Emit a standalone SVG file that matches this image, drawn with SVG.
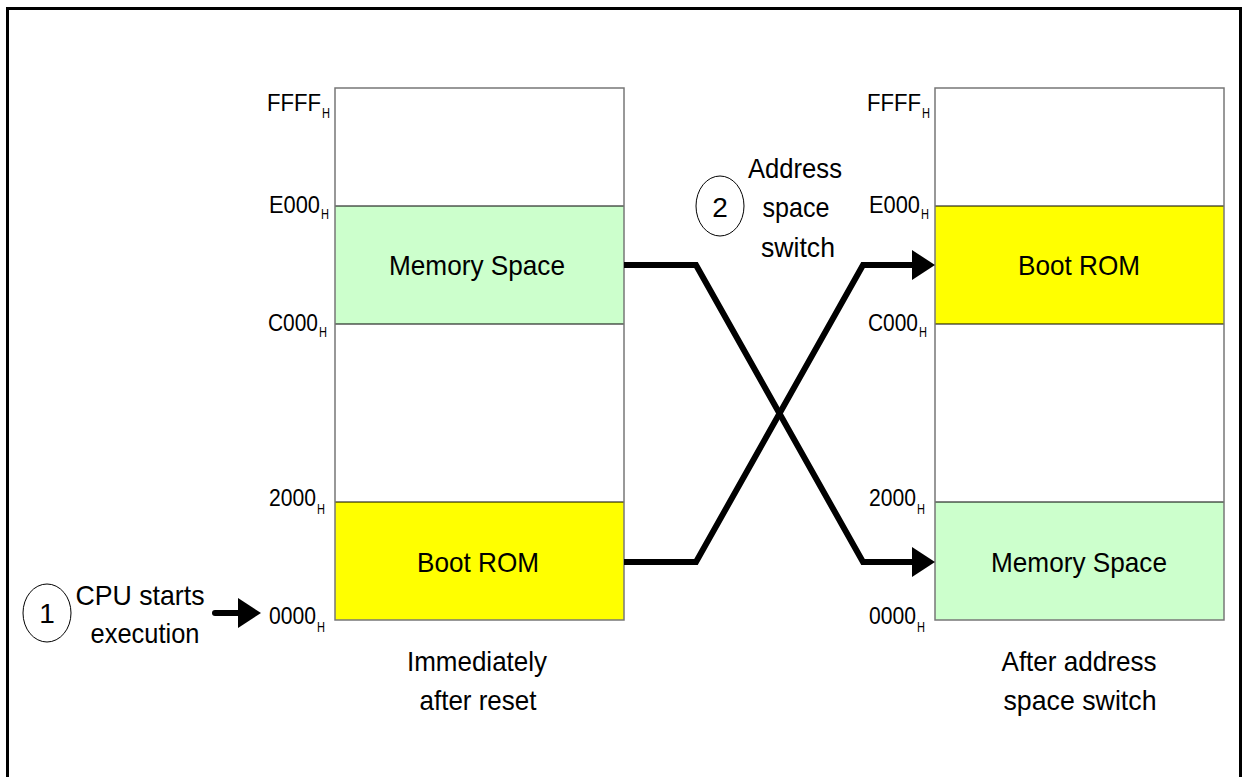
<svg xmlns="http://www.w3.org/2000/svg" width="1243" height="777" viewBox="0 0 1243 777">
<style>
  text { font-family: "Liberation Sans", Arial, sans-serif; fill: #000; }
  .big { font-size: 28px; text-anchor: middle; }
  .lbl { font-size: 24px; text-anchor: end; }
  .sub { font-size: 15px; }
  .div { stroke: #000; stroke-width: 1; }
  .box { fill: none; stroke: #777; stroke-width: 1.5; }
  .conn { fill: none; stroke: #000; stroke-width: 6; stroke-linejoin: miter; }
  .num { fill: none; stroke: #000; stroke-width: 1; }
</style>
<defs>
  <marker id="arr" markerUnits="userSpaceOnUse" markerWidth="30" markerHeight="34" refX="0" refY="0" orient="auto" overflow="visible" viewBox="-5 -17 30 34">
    <path d="M-2,-15 L21,0 L-2,15 Z" fill="#000"/>
  </marker>
</defs>
<rect x="0" y="0" width="1243" height="777" fill="#fff"/>
<path d="M7.5,790 L7.5,8.5 L1240.5,8.5 L1240.5,790" fill="none" stroke="#000" stroke-width="3"/>

<g id="map-before">
  <rect x="335" y="206" width="289" height="118" fill="#CCFFCC"/>
  <rect x="335" y="502" width="289" height="118" fill="#FFFF00"/>
  <line class="div" x1="335" y1="206" x2="624" y2="206"/>
  <line class="div" x1="335" y1="324" x2="624" y2="324"/>
  <line class="div" x1="335" y1="502" x2="624" y2="502"/>
  <rect class="box" x="335" y="88" width="289" height="532"/>
  <text class="big" x="477" y="275" textLength="176" lengthAdjust="spacingAndGlyphs">Memory Space</text>
  <text class="big" x="478" y="572" textLength="122" lengthAdjust="spacingAndGlyphs">Boot ROM</text>
  <text class="lbl" x="321" y="111" textLength="54" lengthAdjust="spacingAndGlyphs">FFFF</text>
  <text class="sub" x="322" y="118" textLength="8" lengthAdjust="spacingAndGlyphs">H</text>
  <text class="lbl" x="320" y="213" textLength="51" lengthAdjust="spacingAndGlyphs">E000</text>
  <text class="sub" x="321" y="219" textLength="8" lengthAdjust="spacingAndGlyphs">H</text>
  <text class="lbl" x="318" y="331" textLength="50" lengthAdjust="spacingAndGlyphs">C000</text>
  <text class="sub" x="319" y="337" textLength="8" lengthAdjust="spacingAndGlyphs">H</text>
  <text class="lbl" x="316" y="506" textLength="47" lengthAdjust="spacingAndGlyphs">2000</text>
  <text class="sub" x="317" y="514" textLength="8" lengthAdjust="spacingAndGlyphs">H</text>
  <text class="lbl" x="316" y="624" textLength="47" lengthAdjust="spacingAndGlyphs">0000</text>
  <text class="sub" x="317" y="632" textLength="8" lengthAdjust="spacingAndGlyphs">H</text>
  <text class="big" x="477" y="671" textLength="140" lengthAdjust="spacingAndGlyphs">Immediately</text>
  <text class="big" x="478" y="710" textLength="117" lengthAdjust="spacingAndGlyphs">after reset</text>
</g>

<g id="map-after">
  <rect x="935" y="206" width="289" height="118" fill="#FFFF00"/>
  <rect x="935" y="502" width="289" height="118" fill="#CCFFCC"/>
  <line class="div" x1="935" y1="206" x2="1224" y2="206"/>
  <line class="div" x1="935" y1="324" x2="1224" y2="324"/>
  <line class="div" x1="935" y1="502" x2="1224" y2="502"/>
  <rect class="box" x="935" y="88" width="289" height="532"/>
  <text class="big" x="1079" y="275" textLength="122" lengthAdjust="spacingAndGlyphs">Boot ROM</text>
  <text class="big" x="1079" y="572" textLength="176" lengthAdjust="spacingAndGlyphs">Memory Space</text>
  <text class="lbl" x="921" y="111" textLength="54" lengthAdjust="spacingAndGlyphs">FFFF</text>
  <text class="sub" x="922" y="118" textLength="8" lengthAdjust="spacingAndGlyphs">H</text>
  <text class="lbl" x="920" y="213" textLength="51" lengthAdjust="spacingAndGlyphs">E000</text>
  <text class="sub" x="921" y="219" textLength="8" lengthAdjust="spacingAndGlyphs">H</text>
  <text class="lbl" x="918" y="331" textLength="50" lengthAdjust="spacingAndGlyphs">C000</text>
  <text class="sub" x="919" y="337" textLength="8" lengthAdjust="spacingAndGlyphs">H</text>
  <text class="lbl" x="916" y="506" textLength="47" lengthAdjust="spacingAndGlyphs">2000</text>
  <text class="sub" x="917" y="514" textLength="8" lengthAdjust="spacingAndGlyphs">H</text>
  <text class="lbl" x="916" y="624" textLength="47" lengthAdjust="spacingAndGlyphs">0000</text>
  <text class="sub" x="917" y="632" textLength="8" lengthAdjust="spacingAndGlyphs">H</text>
  <text class="big" x="1079" y="671" textLength="155" lengthAdjust="spacingAndGlyphs">After address</text>
  <text class="big" x="1080" y="710" textLength="153" lengthAdjust="spacingAndGlyphs">space switch</text>
</g>

<g id="step1">
  <ellipse class="num" cx="47" cy="613" rx="24" ry="29"/>
  <text class="big" x="47" y="623">1</text>
  <text class="big" x="140" y="605" textLength="129" lengthAdjust="spacingAndGlyphs">CPU starts</text>
  <text class="big" x="145" y="643" textLength="109" lengthAdjust="spacingAndGlyphs">execution</text>
</g>

<g id="step2">
  <ellipse class="num" cx="720" cy="206" rx="24" ry="30"/>
  <text class="big" x="720" y="217">2</text>
  <text class="big" x="795" y="178" textLength="94" lengthAdjust="spacingAndGlyphs">Address</text>
  <text class="big" x="796" y="217" textLength="67" lengthAdjust="spacingAndGlyphs">space</text>
  <text class="big" x="798" y="257" textLength="74" lengthAdjust="spacingAndGlyphs">switch</text>
</g>

<g id="connectors">
  <path d="M215,613 L240,613" fill="none" stroke="#000" stroke-width="6" stroke-linecap="round" marker-end="url(#arr)"/>
  <path class="conn" d="M624,265 L696,265 L863,562 L914,562" marker-end="url(#arr)"/>
  <path class="conn" d="M624,562 L696,562 L863,265 L914,265" marker-end="url(#arr)"/>
</g>
</svg>
